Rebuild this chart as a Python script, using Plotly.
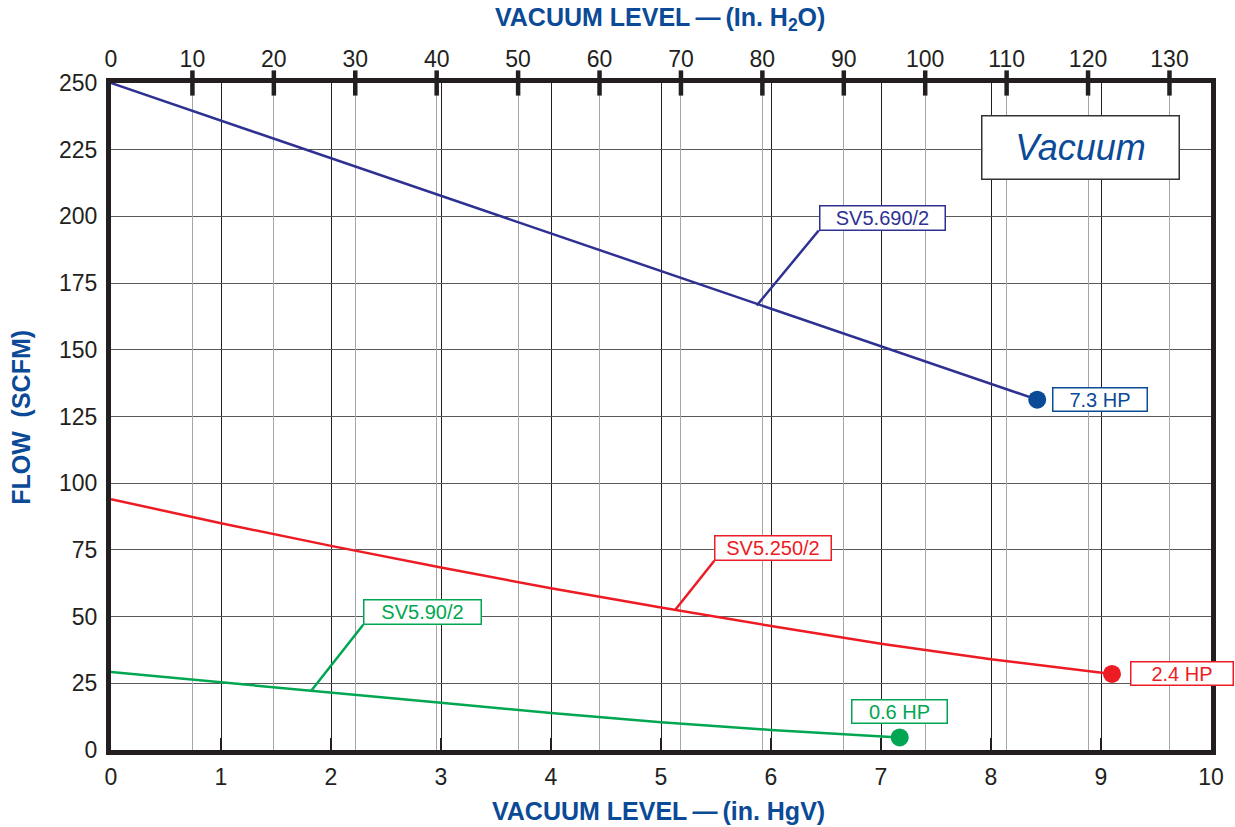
import plotly.graph_objects as go

# ---------------- data ----------------
hg_690 = [0, 2, 4, 6, 8, 8.42]
flow_690 = [250, 221.8, 193.6, 165.5, 137.2, 131.3]

hg_250 = [0, 1, 2, 3, 4, 5, 6, 7, 8, 9, 9.1]
flow_250 = [94, 85, 76.5, 68.4, 60.6, 53.4, 46.5, 39.8, 34.0, 29.0, 28.5]

hg_90 = [0, 1, 2, 3, 4, 5, 6, 7, 7.17]
flow_90 = [29.2, 25.3, 21.5, 17.7, 13.9, 10.4, 7.5, 5.1, 4.7]

end_hg = [8.42, 9.1, 7.17]
end_flow = [131.3, 28.5, 4.7]
end_hp = ["7.3 HP", "2.4 HP", "0.6 HP"]
model_names = ["SV5.690/2", "SV5.250/2", "SV5.90/2"]

hg_ticks = list(range(0, 11))
h2o_ticks = list(range(0, 140, 10))
flow_ticks = list(range(0, 275, 25))
H2O_PER_HG = 13.51  # top-axis scale (in. H2O per in. Hg as drawn)

# ---------------- style ----------------
NAVY = "#2e3192"
BLUE = "#0b4a97"
RED = "#ed1c24"
GREEN = "#00a651"
INK = "#231f20"
FONT = "Liberation Sans, Arial, sans-serif"

fig = go.Figure()

series = [
    (hg_690, flow_690, NAVY),
    (hg_250, flow_250, RED),
    (hg_90, flow_90, GREEN),
]
for hx, fy, col in series:
    fig.add_trace(go.Scatter(x=hx, y=fy, mode="lines",
                             line=dict(color=col, width=2.5), hoverinfo="skip",
                             showlegend=False))

marker_cols = [BLUE, RED, GREEN]
fig.add_trace(go.Scatter(x=end_hg, y=end_flow, mode="markers",
                         marker=dict(color=marker_cols, size=18, line=dict(width=0)),
                         showlegend=False, cliponaxis=False))

# thick tick marks on the top (in. H2O) axis
fig.add_trace(go.Scatter(x=h2o_ticks[1:], y=[flow_ticks[-1]] * (len(h2o_ticks) - 1),
                         xaxis="x2", mode="markers",
                         marker=dict(symbol="line-ns", size=18,
                                     line=dict(width=4.5, color=INK)),
                         showlegend=False, cliponaxis=False, hoverinfo="skip"))

tickfont = dict(family=FONT, size=23, color=INK)

fig.update_layout(
    width=1235, height=827,
    margin=dict(l=111, r=24, t=83, b=77),
    plot_bgcolor="white", paper_bgcolor="white",
    xaxis=dict(range=[0, 10], tickvals=hg_ticks, showgrid=True,
               gridcolor="#231f20", gridwidth=1.2, zeroline=False,
               showline=True, linecolor=INK, linewidth=5, mirror=True,
               ticks="inside", ticklen=12, tickwidth=2, tickcolor=INK,
               tickfont=tickfont, ticklabelstandoff=2),
    xaxis2=dict(range=[0, 10 * H2O_PER_HG], tickvals=h2o_ticks, overlaying="x",
                side="top", showgrid=True, gridcolor="#a6a6a6", gridwidth=1.2,
                zeroline=False, showline=False, ticks="", tickfont=tickfont,
                ticklabelstandoff=10),
    yaxis=dict(range=[0, 250], tickvals=flow_ticks, showgrid=True,
               gridcolor="#595959", gridwidth=1.2, zeroline=False,
               showline=True, linecolor=INK, linewidth=5, mirror=True,
               ticks="", tickfont=tickfont, ticklabelstandoff=4),
)

anns = []
TITLE = dict(family=FONT, size=25, color=BLUE)
anns.append(dict(xref="paper", yref="paper", x=0.499, y=1.0955, showarrow=False,
                 text="<b>VACUUM LEVEL\u2009\u2014\u2009(In. H<sub>2</sub>O)</b>", font=TITLE,
                 xanchor="center", yanchor="middle"))
anns.append(dict(xref="paper", yref="paper", x=0.498, y=-0.092, showarrow=False,
                 text="<b>VACUUM LEVEL\u2009\u2014\u2009(in. HgV)</b>", font=TITLE,
                 xanchor="center", yanchor="middle"))
anns.append(dict(xref="paper", yref="paper", x=-0.0818, y=0.498, showarrow=False,
                 text="<b>FLOW  (SCFM)</b>", font=TITLE, textangle=-90,
                 xanchor="center", yanchor="middle"))

# Vacuum box
anns.append(dict(xref="paper", yref="paper", x=0.8815, y=0.904, showarrow=False,
                 xanchor="center", yanchor="middle",
                 text="<i>Vacuum</i>", font=dict(family=FONT, size=36, color=BLUE),
                 bgcolor="white", bordercolor="#333333", borderwidth=1.5,
                 width=196, height=62, borderpad=0))

# model labels with leader lines
leaders = [
    # (name, head x, head y, ax, ay, color, box width)
    (model_names[0], 5.87, 166.6, 62, -75, NAVY, 124),
    (model_names[1], 5.13, 52.6, 39, -49, RED, 115),
    (model_names[2], 1.82, 22.2, 52, -66, GREEN, 116),
]
for name, hx, hy, ax, ay, col, w in leaders:
    anns.append(dict(x=hx, y=hy, xref="x", yref="y", ax=ax, ay=ay,
                     showarrow=True, arrowhead=0, arrowwidth=2.5, arrowcolor=col,
                     standoff=0, xanchor="left", yanchor="bottom",
                     text=name, font=dict(family=FONT, size=20, color=col),
                     bgcolor="white", bordercolor=col, borderwidth=1.5,
                     width=w, height=23, borderpad=0))

# HP labels next to end markers
hp_place = [
    (BLUE, "left", "middle", 15, 0, 93),
    (RED, "left", "middle", 18, 0, 101),
    (GREEN, "center", "bottom", 0, 13, 94),
]
for (col, xa, ya, xs, ys, w), hx, hy, txt in zip(hp_place, end_hg, end_flow, end_hp):
    anns.append(dict(x=hx, y=hy, xref="x", yref="y", showarrow=False,
                     xanchor=xa, yanchor=ya, xshift=xs, yshift=ys,
                     text=txt, font=dict(family=FONT, size=20, color=col),
                     bgcolor="white", bordercolor=col, borderwidth=1.5,
                     width=w, height=22, borderpad=0))

fig.update_layout(annotations=anns)
fig.write_html("out.html", config={"displayModeBar": False},
               post_script="document.body.style.margin='0';document.body.style.overflow='hidden';")
